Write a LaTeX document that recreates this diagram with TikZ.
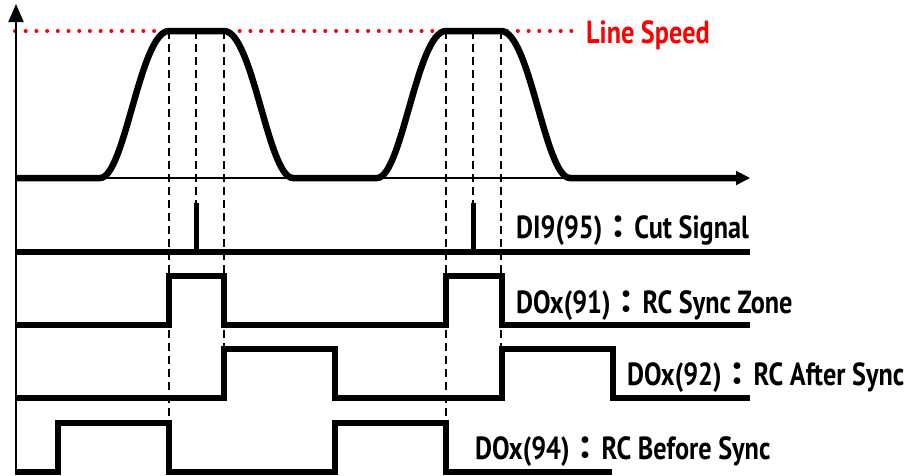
\documentclass[tikz,border=0pt]{standalone}
\usepackage{fontspec}
\setmainfont[FakeStretch=0.82]{PT Sans}
\newfontfamily\cjk{Noto Sans CJK TC}
\usetikzlibrary{arrows.meta}
\definecolor{sred}{HTML}{FF0000}
\tikzset{
  >=Triangle,
  axis/.style={line width=2pt, draw=black},
  sig/.style={line width=5.5pt, line join=miter, draw=black},
  guide/.style={line width=1.6pt, dash pattern=on 8pt off 5pt},
  speedline/.style={line width=4pt, draw=sred, line cap=round, dash pattern=on 0pt off 10.7pt},
  lab/.style={font=\fontsize{32}{32}\selectfont\bfseries, anchor=base west, inner sep=0pt}
}
\newcommand{\fwc}{{\cjk ：}}

\begin{document}
\begin{tikzpicture}[x=1pt, y=-1pt]
  \useasboundingbox (0,0) rectangle (913,475);
  % line speed level
  \draw[speedline] (15,31) -- (578,31);
  \node[lab, text=sred] (speedlab) at (586,43) {Line Speed};
  % guides
  \foreach \x/\y in {169/423, 196/203, 224/349, 446/423, 473/203, 501/349} {
    \draw[guide] (\x,31) -- (\x,\y);
  }
  % axes
  \draw[axis, -{Triangle[length=18pt, width=15pt]}] (16,475) -- (16,4);
  \draw[axis, -{Triangle[length=14pt, width=14pt]}] (16,178) -- (750,178);
  % speed profile
  \draw[sig, line width=6.5pt] (16,178) -- (100,178)
    .. controls (125,178) and (140,31) .. (169,31) -- (224,31)
    .. controls (253,31) and (268,178) .. (293,178) -- (377,178)
    .. controls (402,178) and (417,31) .. (446,31) -- (501,31)
    .. controls (530,31) and (545,178) .. (570,178) -- (738,178);
  % DI9 cut signal
  \draw[sig] (16,252) -- (750,252);
  \foreach \x in {196, 473} {
    \draw[sig, line width=5pt] (\x,252) -- (\x,203);
  }
  \node[lab] (cutlab) at (516,238) {DI9(95)\fwc Cut Signal};
  % DOx 91
  \draw[sig] (16,325) -- (169,325) -- (169,276) -- (224,276) -- (224,325)
    -- (446,325) -- (446,276) -- (502,276) -- (502,325) -- (750,325);
  \node[lab] (zonelab) at (516,313) {DOx(91)\fwc RC Sync Zone};
  % DOx 92
  \draw[sig] (16,398) -- (224,398) -- (224,349) -- (335,349) -- (335,398)
    -- (502,398) -- (502,349) -- (613,349) -- (613,398) -- (750,398);
  \node[lab] (afterlab) at (627,385) {DOx(92)\fwc RC After Sync};
  % DOx 94
  \draw[sig] (16,472) -- (58,472) -- (58,423) -- (169,423) -- (169,472)
    -- (335,472) -- (335,423) -- (446,423) -- (446,472) -- (612,472);
  \node[lab] (beforelab) at (475,459) {DOx(94)\fwc RC Before Sync};
\end{tikzpicture}
\end{document}
